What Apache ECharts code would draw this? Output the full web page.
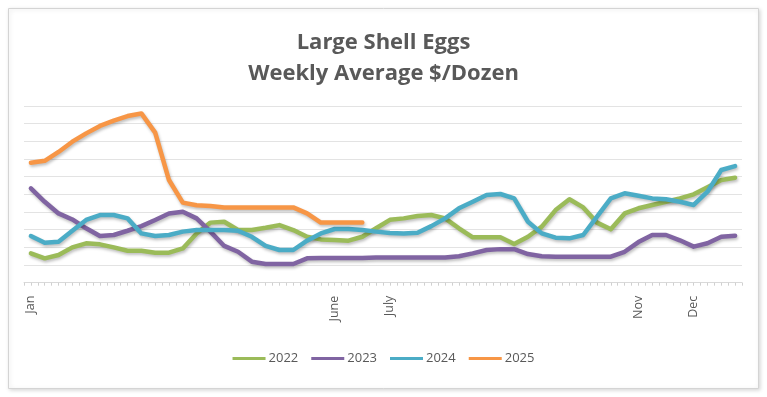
<!DOCTYPE html>
<html>
<head>
<meta charset="utf-8">
<script src="https://cdn.jsdelivr.net/npm/echarts@6/dist/echarts.min.js"></script>
<style>
html,body{margin:0;padding:0;background:#fff;}
#c{width:767px;height:397px;}
</style>
</head>
<body>
<div id="c"></div>
<script>
// Week index 0..51 (values in gridline units)
const weeks = Array.from({length: 52}, (_, i) => 'W' + (i + 1));
const monthLabels = {0: 'Jan', 22: 'June', 26: 'July', 44: 'Nov', 48: 'Dec'};
const halfWeekTicks = Array.from({length: 104}, (_, i) => 'h' + i);

const y2022 = [1.66,1.38,1.57,2.0,2.23,2.17,2.0,1.81,1.81,1.7,1.7,1.94,2.79,3.4,3.45,2.98,2.98,3.11,3.26,2.98,2.6,2.45,2.42,2.38,2.6,3.08,3.56,3.64,3.77,3.83,3.64,3.08,2.57,2.57,2.57,2.19,2.6,3.17,4.11,4.72,4.26,3.4,3.02,3.92,4.21,4.4,4.58,4.77,5.0,5.4,5.81,5.94];
const y2023 = [5.34,4.58,3.92,3.58,3.08,2.64,2.7,2.94,3.2,3.55,3.92,4.02,3.64,2.89,2.08,1.75,1.19,1.06,1.06,1.06,1.38,1.4,1.4,1.4,1.4,1.42,1.42,1.42,1.42,1.42,1.42,1.5,1.66,1.85,1.9,1.9,1.62,1.5,1.47,1.47,1.47,1.47,1.47,1.75,2.3,2.7,2.7,2.4,2.04,2.23,2.6,2.66];
const y2024 = [2.64,2.26,2.32,2.94,3.55,3.83,3.83,3.64,2.79,2.64,2.7,2.89,2.98,2.98,2.98,2.94,2.6,2.08,1.85,1.85,2.38,2.79,3.04,3.04,2.98,2.89,2.81,2.79,2.83,3.2,3.64,4.21,4.58,4.96,5.02,4.77,3.45,2.79,2.55,2.51,2.7,3.74,4.77,5.06,4.92,4.77,4.72,4.58,4.4,5.15,6.38,6.6];
const y2025 = [6.79,6.9,7.4,7.98,8.45,8.87,9.17,9.43,9.58,8.49,5.81,4.53,4.38,4.34,4.26,4.26,4.26,4.26,4.26,4.26,3.92,3.4,3.4,3.4,3.4];

const chart = echarts.init(document.getElementById('c'));
const lineSeries = (name, data, color) => ({
  name, type: 'line', data, xAxisIndex: 0, yAxisIndex: 0,
  showSymbol: false, symbol: 'none',
  lineStyle: {width: 4.5, color, cap: 'round', join: 'round',
    shadowBlur: 3, shadowColor: 'rgba(0,0,0,0.25)', shadowOffsetY: 2, shadowOffsetX: 1},
  itemStyle: {color},
  emphasis: {disabled: true}
});
chart.setOption({
  animation: false,
  backgroundColor: '#fff',
  graphic: [{
    type: 'rect', left: 8, top: 8, z: -10,
    shape: {x: 0, y: 0, width: 750, height: 380},
    style: {fill: '#fff', stroke: '#d4d4d4', lineWidth: 1,
      shadowBlur: 4, shadowColor: 'rgba(0,0,0,0.15)', shadowOffsetX: 1, shadowOffsetY: 1}
  }],
  title: {
    text: 'Large Shell Eggs\nWeekly Average $/Dozen',
    left: 'center', top: 22,
    textStyle: {fontFamily: 'Open Sans', fontSize: 22, fontWeight: 700, color: '#595959', lineHeight: 31}
  },
  legend: {
    bottom: 27, left: 'center',
    icon: 'rect', itemWidth: 33, itemHeight: 3, itemGap: 13,
    textStyle: {fontFamily: 'Open Sans', fontSize: 13, color: '#595959', padding: [0, 0, 0, -2]},
    data: ['2022', '2023', '2024', '2025']
  },
  grid: {left: 24, width: 718, top: 106, bottom: 114.3},
  xAxis: [{
    type: 'category', data: weeks, boundaryGap: true, position: 'bottom',
    axisLine: {lineStyle: {color: '#d9d9d9', width: 1}},
    axisTick: {show: false},
    axisLabel: {
      interval: 0, rotate: 90, margin: 13,
      fontFamily: 'Open Sans', fontSize: 12.5, color: '#595959',
      formatter: (v, i) => monthLabels[i] || ''
    },
    splitLine: {show: false}
  }, {
    type: 'category', data: halfWeekTicks, boundaryGap: true, position: 'bottom', gridIndex: 0,
    axisLine: {show: false},
    axisTick: {show: true, interval: 0, length: 3, lineStyle: {color: '#d0d0d0'}},
    axisLabel: {show: false},
    splitLine: {show: false}
  }],
  yAxis: {
    type: 'value', min: 0, max: 10, interval: 1,
    axisLine: {show: false}, axisTick: {show: false}, axisLabel: {show: false},
    splitLine: {lineStyle: {color: '#e3e3e3', width: 1}}
  },
  series: [
    lineSeries('2022', y2022, '#9bbb59'),
    lineSeries('2023', y2023, '#8064a2'),
    lineSeries('2024', y2024, '#4bacc6'),
    lineSeries('2025', y2025, '#f79646')
  ]
});
</script>
</body>
</html>
